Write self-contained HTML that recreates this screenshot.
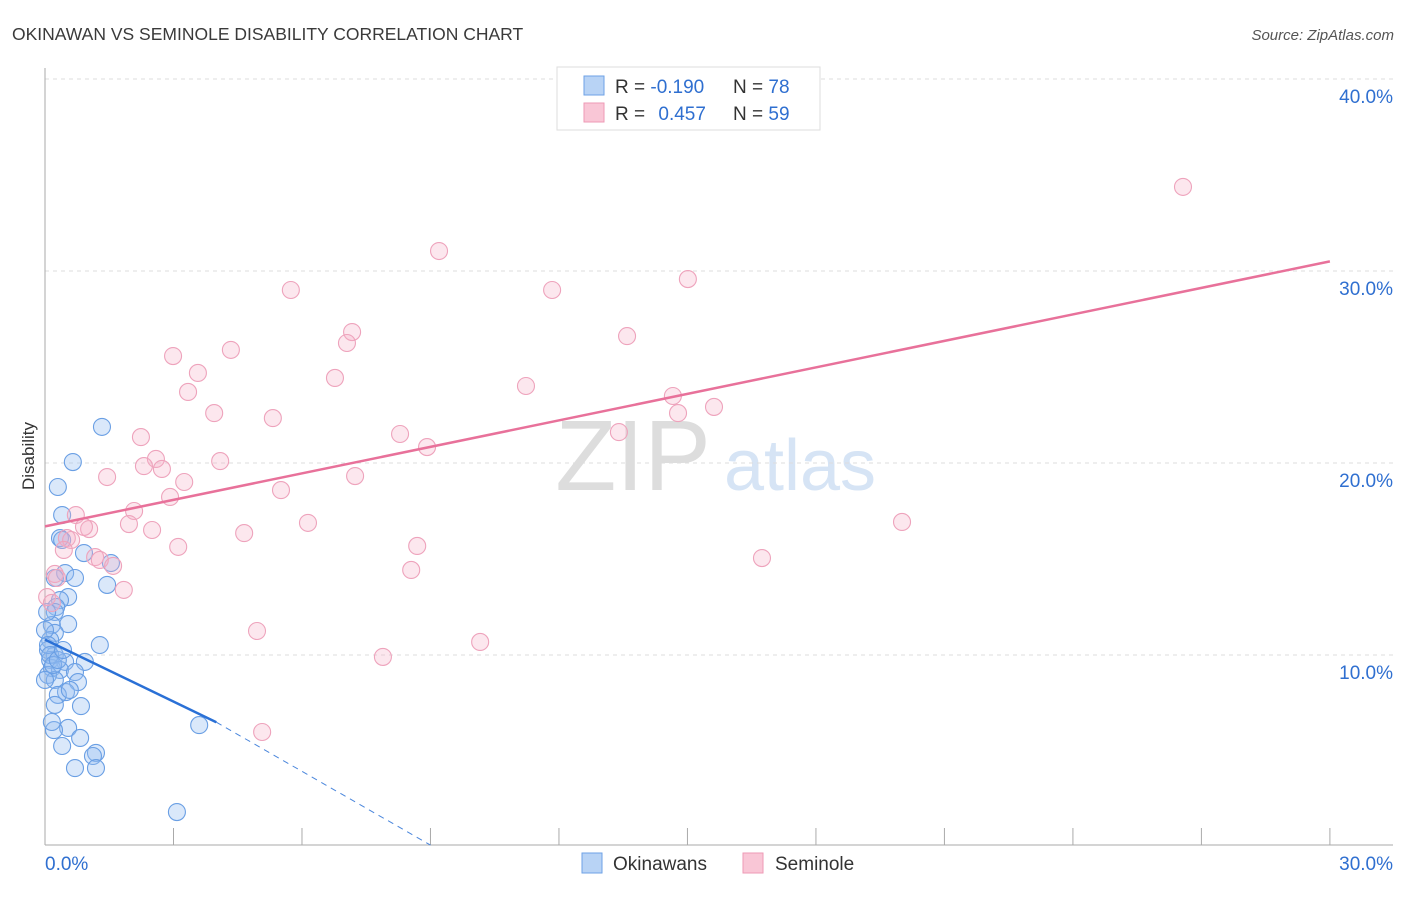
<!DOCTYPE html>
<html><head><meta charset="utf-8"><style>
body{margin:0;background:#fff;font-family:"Liberation Sans",sans-serif;}
svg text{font-family:"Liberation Sans",sans-serif;}
</style></head><body>
<svg id="chart" width="1406" height="892" xmlns="http://www.w3.org/2000/svg">
<text x="12" y="40" font-size="17.5" fill="#3a3a3a">OKINAWAN VS SEMINOLE DISABILITY CORRELATION CHART</text>
<text x="1394" y="40" font-size="15" fill="#555" text-anchor="end" font-style="italic">Source: ZipAtlas.com</text>
<text x="633" y="490" font-size="100" fill="#ddd" font-family="Liberation Serif" text-anchor="middle">ZIP</text>
<text x="800" y="490" font-size="72" fill="#d6e4f5" text-anchor="middle">atlas</text>
<g id="grid"></g>
<g id="axes"></g>
<g id="marks"></g>
<text x="34" y="456" font-size="17" fill="#333" text-anchor="middle" transform="rotate(-90 34 456)">Disability</text>
<g>
<rect x="557" y="67" width="263" height="63" fill="#fff" stroke="#ddd"/>
<rect x="584" y="76" width="20" height="19" fill="#b8d3f5" stroke="#6ea1e6"/>
<rect x="584" y="103" width="20" height="19" fill="#f9c6d6" stroke="#ee9ab5"/>
<text x="615" y="93" font-size="19" fill="#333">R = <tspan fill="#2f6fd0">-0.190</tspan></text>
<text x="733" y="93" font-size="19" fill="#333">N = <tspan fill="#2f6fd0">78</tspan></text>
<text x="615" y="120" font-size="19" fill="#333">R = <tspan fill="#2f6fd0" dx="8">0.457</tspan></text>
<text x="733" y="120" font-size="19" fill="#333">N = <tspan fill="#2f6fd0">59</tspan></text>
</g>
<g>
<rect x="582" y="853" width="20" height="20" fill="#b8d3f5" stroke="#6ea1e6"/>
<text x="613" y="870" font-size="19" fill="#333">Okinawans</text>
<rect x="743" y="853" width="20" height="20" fill="#f9c6d6" stroke="#ee9ab5"/>
<text x="775" y="870" font-size="19" fill="#333">Seminole</text>
</g>
</svg>
<script>
const blueX=[1.33,0.65,0.30,0.40,0.35,0.40,0.91,1.54,0.47,0.70,0.23,1.45,0.54,0.35,0.26,0.23,0.54,0.16,0.23,0.12,1.28,0.07,0.23,0.12,0.47,0.93,0.16,0.35,0.70,0.07,0.23,0.77,0.49,0.30,0.84,0.23,0.54,0.21,0.16,0.82,0.40,1.19,1.12,0.70,1.19,3.60,3.08,0,0.07,0.12,0.19,0.30,0.58,0.42,0,0.05];
const blueY=[21.88,20.05,18.75,17.29,16.09,15.99,15.31,14.79,14.27,14.01,14.01,13.65,13.02,12.86,12.50,12.24,11.61,11.56,11.15,10.78,10.52,10.26,10.00,9.74,9.64,9.64,9.32,9.22,9.11,8.96,8.70,8.59,8.07,7.92,7.34,7.40,6.20,6.09,6.51,5.68,5.26,4.90,4.74,4.11,4.11,6.35,1.82,11.3,10.52,10.0,9.48,9.74,8.18,10.26,8.70,12.24];
const pinkX=[26.57,9.20,5.74,11.84,15.01,7.17,7.05,13.59,2.99,4.34,3.57,6.77,3.34,11.23,14.66,3.95,5.32,14.78,15.62,2.24,8.29,8.92,13.40,4.09,2.59,2.31,2.73,7.24,1.45,3.25,2.92,5.51,2.08,0.72,6.14,1.96,20.01,1.03,0.91,2.50,4.65,0.51,0.61,3.11,8.69,0.44,1.17,1.28,16.74,1.59,8.55,0.23,0.28,1.84,4.95,10.16,7.89,5.07,0.05,0.16];
const pinkY=[34.38,31.04,29.01,29.01,29.58,26.82,26.25,26.61,25.57,25.89,24.69,24.43,23.70,24.01,23.49,22.60,22.34,22.60,22.92,21.35,21.51,20.83,21.61,20.10,20.21,19.84,19.69,19.32,19.27,19.01,18.23,18.59,17.50,17.29,16.88,16.82,16.93,16.56,16.67,16.51,16.35,16.09,15.99,15.63,15.68,15.47,15.10,14.95,15.05,14.64,14.43,14.22,14.01,13.39,11.25,10.68,9.90,5.99,13.02,12.71];
const yTicks=[10,20,30,40];
const yTickLabels=["10.0%","20.0%","30.0%","40.0%"];
const blueTrend=[0,10.8,4.0,6.5,9.0,0.1];
const pinkTrend=[0,16.7,30,30.5];
const NS="http://www.w3.org/2000/svg";
const X=v=>45+v*42.83, Y=v=>847-v*19.2;
function mk(tag,attrs,parent){const e=document.createElementNS(NS,tag);for(const k in attrs)e.setAttribute(k,attrs[k]);parent.appendChild(e);return e;}
const grid=document.getElementById('grid'),axes=document.getElementById('axes'),marks=document.getElementById('marks');
yTicks.forEach((t,i)=>{
 const l=mk('line',{x1:45,x2:1393,y1:Y(t),y2:Y(t),stroke:'#ddd','stroke-dasharray':'4,4'},grid);
 
 
 const tx=mk('text',{x:1393,y:Y(t)+24,'font-size':19,fill:'#2f6fd0','text-anchor':'end'},axes);
 tx.textContent=yTickLabels[i];
 
 
});
let a=mk('line',{x1:45,x2:45,y1:68,y2:845,stroke:'#aaa'},axes);


a=mk('line',{x1:45,x2:1393,y1:845,y2:845,stroke:'#aaa'},axes);


for(let i=1;i<=10;i++){const t=mk('line',{x1:X(i*3),x2:X(i*3),y1:828,y2:845,stroke:'#aaa'},axes);
 
 }
let xl=mk('text',{x:45,y:870,'font-size':19,fill:'#2f6fd0'},axes);xl.textContent='0.0%';


xl=mk('text',{x:1393,y:870,'font-size':19,fill:'#2f6fd0','text-anchor':'end'},axes);xl.textContent='30.0%';


blueX.forEach((v,i)=>{const c=mk('circle',{cx:X(v),cy:Y(blueY[i]),r:8.5,fill:'rgba(150,190,240,0.35)',stroke:'#6a9fe4','stroke-width':1.1},marks);
 
 });
pinkX.forEach((v,i)=>{const c=mk('circle',{cx:X(v),cy:Y(pinkY[i]),r:8.5,fill:'rgba(245,175,200,0.3)',stroke:'#eea3bc','stroke-width':1.1},marks);
 
 });
let tl=mk('line',{x1:X(blueTrend[2]),y1:Y(blueTrend[3]),x2:X(blueTrend[4]),y2:Y(blueTrend[5]),stroke:'#4a86dc','stroke-width':1,'stroke-dasharray':'6,5'},marks);


tl=mk('line',{x1:X(blueTrend[0]),y1:Y(blueTrend[1]),x2:X(blueTrend[2]),y2:Y(blueTrend[3]),stroke:'#2a70d6','stroke-width':2.5},marks);


tl=mk('line',{x1:X(pinkTrend[0]),y1:Y(pinkTrend[1]),x2:X(pinkTrend[2]),y2:Y(pinkTrend[3]),stroke:'#e8719a','stroke-width':2.5},marks);


</script>
</body></html>
